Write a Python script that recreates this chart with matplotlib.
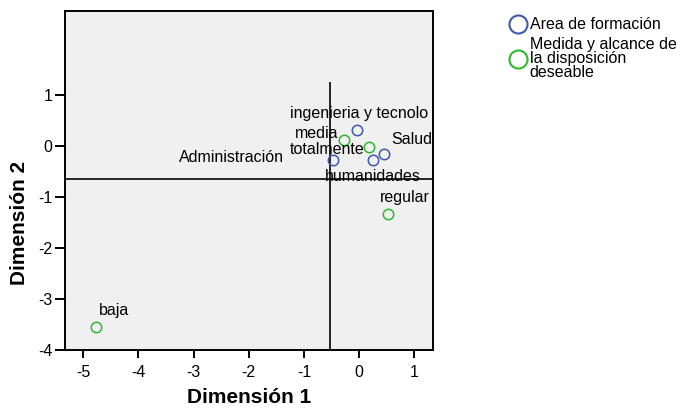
import matplotlib
matplotlib.use('Agg')
import matplotlib.pyplot as plt
from matplotlib.lines import Line2D

plt.rcParams['font.family'] = ['Liberation Sans', 'DejaVu Sans']
plt.rcParams['axes.unicode_minus'] = False

# Area de formacion (blue)
area_labels = ['ingenieria y tecnolo', 'Salud', 'humanidades', 'Administración']
area_x = [-0.04, 0.46, 0.25, -0.48]
area_y = [0.32, -0.15, -0.28, -0.28]

# Medida y alcance de la disposicion deseable (green)
medida_labels = ['media', 'totalmente', 'regular', 'baja']
medida_x = [-0.28, 0.18, 0.52, -4.76]
medida_y = [0.12, -0.01, -1.33, -3.54]

# reference lines
ref_x = -0.52
ref_x_top = 1.26
ref_y = -0.64

xticks = [-5, -4, -3, -2, -1, 0, 1]
yticks = [-4, -3, -2, -1, 0, 1]

blue = '#3E58AC'
green = '#2EB82E'

# label placement (pixel offsets, alignment)
area_off = [((2, 16), 'center'), ((27, 14), 'center'), ((0, -16), 'center'), ((-49, 3), 'right')]
medida_off = [((-5, 7), 'right'), ((-5, -3), 'right'), ((17, 16), 'center'), ((18, 16), 'center')]

fig = plt.figure(figsize=(6.83, 4.08), dpi=100)
ax = fig.add_axes([0.0952, 0.142, 0.634 - 0.0952, 0.973 - 0.142])
ax.set_facecolor('#F0F0F0')

ax.plot(area_x, area_y, 'o', ms=7.5, mfc='none', mec=blue, mew=1.1, zorder=3)
ax.plot(medida_x, medida_y, 'o', ms=7.5, mfc='none', mec=green, mew=1.1, zorder=3)

for lab, x, y, (off, ha) in zip(area_labels + medida_labels, area_x + medida_x,
                                area_y + medida_y, area_off + medida_off):
    ax.annotate(lab, (x, y), xytext=off, textcoords='offset pixels',
                ha=ha, va='center', fontsize=11.5, zorder=4)

ax.vlines(ref_x, -4, ref_x_top, colors='black', lw=1.2, zorder=2)
ax.axhline(ref_y, color='black', lw=1.2, zorder=2)

xmin, xmax = -5.33, 1.34
ymin, ymax = -4.0, 2.65
ax.set_xlim(xmin, xmax)
ax.set_ylim(ymin, ymax)
ax.set_xticks(xticks)
ax.set_yticks(yticks)
ax.tick_params(axis='x', length=5.5, width=1.4, pad=5, labelsize=11.5)
ax.tick_params(axis='y', length=7, width=1.4, pad=2, labelsize=11.5)
for s in ax.spines.values():
    s.set_linewidth(1.4)

ax.set_xlabel('Dimensión 1', fontsize=15, fontweight='bold', va='baseline')
ax.set_ylabel('Dimensión 2', fontsize=15, fontweight='bold')
# labels centred on the tick range, as in the original
ax.xaxis.set_label_coords((-2 - xmin) / (xmax - xmin), -0.157)
ax.yaxis.set_label_coords(-0.098, (-1.5 - ymin) / (ymax - ymin))

handles = [Line2D([], [], ls='none', marker='o', ms=13, mfc='none', mec=blue, mew=1.5),
           Line2D([], [], ls='none', marker='o', ms=13, mfc='none', mec=green, mew=1.5)]
leg = fig.legend(handles, ['Area de formación', 'Medida y alcance de\nla disposición\ndeseable'],
                 loc='upper left', bbox_to_anchor=(0.73, 0.985), frameon=False,
                 fontsize=11.5, handlelength=1.0, handletextpad=0.25,
                 labelspacing=0.3, borderpad=0.2)
for t in leg.get_texts():
    t.set_linespacing(0.9)

fig.savefig('out.png', dpi=100)
